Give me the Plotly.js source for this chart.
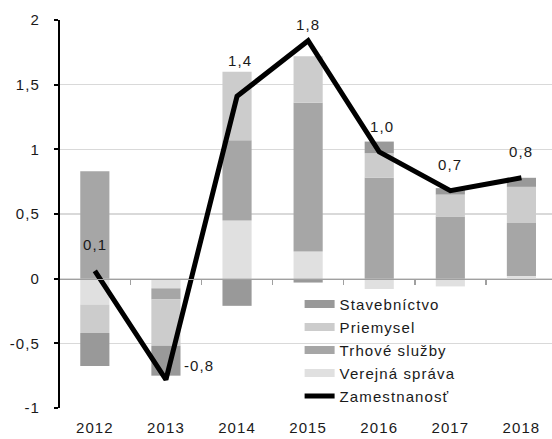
<!DOCTYPE html>
<html>
<head>
<meta charset="utf-8">
<script src="https://cdn.plot.ly/plotly-3.0.1.min.js"></script>
<style>
html,body{margin:0;padding:0;background:#fff;}
#chart{width:552px;height:439px;}
svg text{letter-spacing:1.1px;}
</style>
</head>
<body>
<div id="chart"></div>
<script>
const years = ['2012', '2013', '2014', '2015', '2016', '2017', '2018'];
const stavebnictvo = [-0.255, -0.23, -0.21, -0.03, 0.09, 0.05, 0.07];
const priemysel = [-0.22, -0.36, 0.53, 0.36, 0.19, 0.17, 0.28];
const trhoveSluzby = [0.83, -0.085, 0.62, 1.15, 0.78, 0.48, 0.41];
const verejnaSprava = [-0.20, -0.075, 0.45, 0.21, -0.08, -0.06, 0.02];
const zamestnanost = [0.06, -0.78, 1.41, 1.84, 0.98, 0.68, 0.78];
const yTickVals = [-1, -0.5, 0, 0.5, 1, 1.5, 2];

const names = {sta: 'Stavebníctvo', pri: 'Priemysel', trh: 'Trhové služby', ver: 'Verejná správa', zam: 'Zamestnanosť'};
const colors = {sta: '#999999', pri: '#cccccc', trh: '#a6a6a6', ver: '#e0e0e0', zam: '#000000'};
const ranks = {sta: 1, pri: 2, trh: 3, ver: 4, zam: 5};
const fmt = v => String(v).replace('.', ',');
const fmt1 = v => v.toFixed(1).replace('.', ',');

function barTrace(key, vals) {
  return {type: 'bar', x: years, y: vals, name: names[key], legendgroup: key, showlegend: false,
    marker: {color: colors[key], line: {width: 0}}, hoverinfo: 'x+y+name'};
}
function legendTrace(key) {
  return {type: 'scatter', mode: 'lines', x: [null], y: [null], name: names[key], legendgroup: key,
    legendrank: ranks[key], showlegend: true, line: {color: colors[key], width: 8}, hoverinfo: 'skip'};
}

const traces = [
  barTrace('ver', verejnaSprava),
  barTrace('trh', trhoveSluzby),
  barTrace('pri', priemysel),
  barTrace('sta', stavebnictvo),
  {type: 'scatter', mode: 'lines', x: years, y: zamestnanost, name: names.zam, legendgroup: 'zam',
   legendrank: ranks.zam, line: {color: colors.zam, width: 5}},
  legendTrace('sta'), legendTrace('pri'), legendTrace('trh'), legendTrace('ver'),
  {type: 'scatter', mode: 'lines', x: [null], y: [null], xaxis: 'x2', yaxis: 'y', showlegend: false, hoverinfo: 'skip'}
];

// label offsets (px) for the line data labels
const labelShift = [
  {dx: 0, dy: 26, xa: 'center'}, {dx: 16, dy: 14, xa: 'left'}, {dx: 3, dy: 36, xa: 'center'},
  {dx: 0, dy: 16, xa: 'center'}, {dx: 3, dy: 25, xa: 'center'}, {dx: 0, dy: 26, xa: 'center'},
  {dx: 0, dy: 26, xa: 'center'}
];
// annotation x uses the category serial number (index) on the category axis
const annotations = zamestnanost.map((v, i) => ({
  x: i, y: v, xref: 'x', yref: 'y', text: fmt1(v), showarrow: false,
  xshift: labelShift[i].dx, yshift: labelShift[i].dy, xanchor: labelShift[i].xa, yanchor: 'middle',
  font: {size: 15, color: '#1a1a1a'}
}));

const font = {family: 'Liberation Sans, Arial, sans-serif', size: 15, color: '#1a1a1a'};
const layout = {
  width: 552, height: 439,
  margin: {l: 60, r: 0, t: 20, b: 31, pad: 0},
  paper_bgcolor: '#ffffff', plot_bgcolor: '#ffffff',
  font: font,
  barmode: 'relative', bargap: 0.59,
  showlegend: true,
  legend: {x: 0.487, y: 0.31, xanchor: 'left', yanchor: 'top', bgcolor: 'rgba(0,0,0,0)',
    traceorder: 'grouped', tracegroupgap: 0.5, font: {size: 15, color: '#1a1a1a'}, itemwidth: 30},
  xaxis: {type: 'category', range: [-0.49, 6.43], showgrid: false, showline: false, zeroline: false,
    ticks: '', ticklabelstandoff: 9, tickfont: {size: 15, color: '#1a1a1a'}, fixedrange: true},
  xaxis2: {overlaying: 'x', anchor: 'free', position: 1/3, type: 'linear', range: [-0.49, 6.43],
    tickmode: 'array', tickvals: [0.5, 1.5, 2.5, 3.5, 4.5, 5.5], ticks: 'outside', ticklen: 5,
    tickwidth: 1.5, tickcolor: '#a0a0a0', showline: true, linecolor: '#a0a0a0', linewidth: 1.5,
    showticklabels: false, showgrid: false, zeroline: false},
  yaxis: {range: [-1, 2], tickmode: 'array', tickvals: yTickVals, ticktext: yTickVals.map(fmt),
    showgrid: true, gridcolor: '#d9d9d9', gridwidth: 1.5, zeroline: false,
    showline: true, linecolor: '#000000', linewidth: 2, ticks: 'outside', ticklen: 4, tickwidth: 2,
    tickcolor: '#000000', ticklabelstandoff: 11, tickfont: {size: 15, color: '#1a1a1a'}},
  annotations: annotations
};

Plotly.newPlot('chart', traces, layout, {displayModeBar: false, staticPlot: true});
</script>
</body>
</html>
